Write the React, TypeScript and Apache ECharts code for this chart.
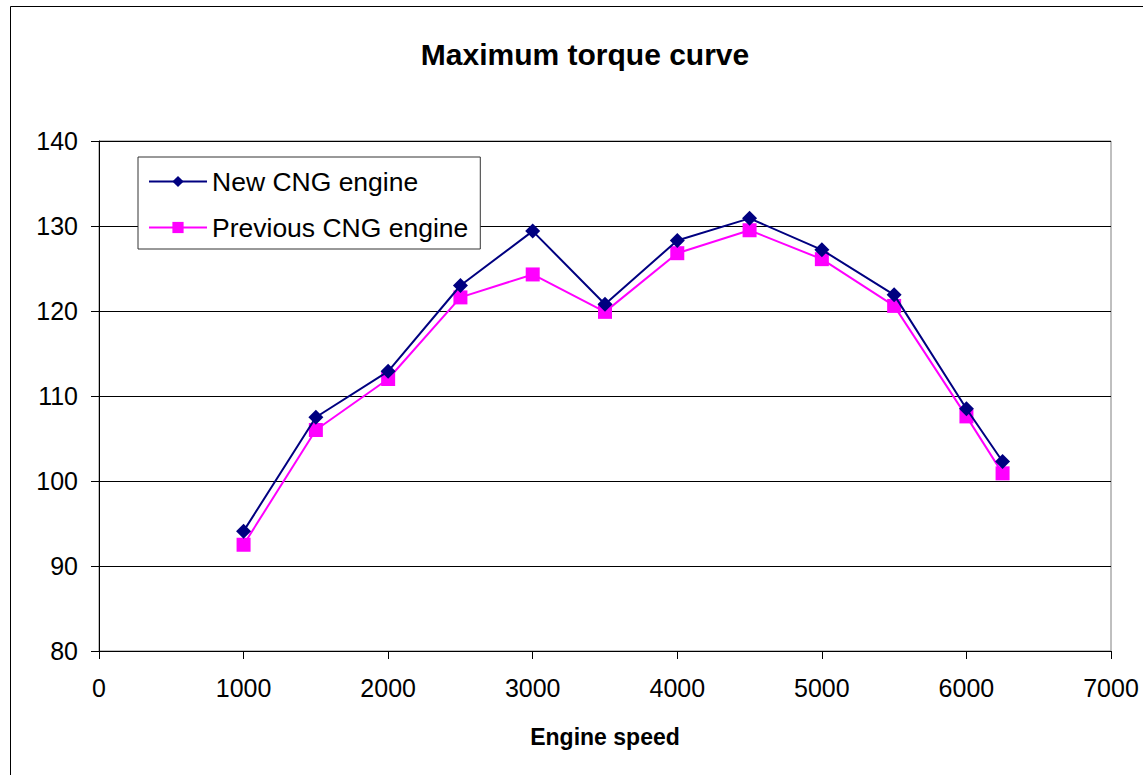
import React, { useEffect, useRef } from "react";
import * as echarts from "echarts";

const speeds = [1000, 1500, 2000, 2500, 3000, 3500, 4000, 4500, 5000, 5500, 6000, 6250];
const newEngine = [94.1, 107.5, 112.9, 123.0, 129.4, 120.8, 128.3, 130.9, 127.2, 121.9, 108.5, 102.3];
const prevEngine = [92.5, 106.0, 112.0, 121.6, 124.3, 119.9, 126.8, 129.5, 126.1, 120.6, 107.6, 100.9];
const seriesNames = ["New CNG engine", "Previous CNG engine"];
const titleText = "Maximum torque curve";
const xAxisName = "Engine speed";

const FONT = "'Liberation Sans', Arial, sans-serif";

export default function App() {
  const ref = useRef<HTMLDivElement>(null);
  useEffect(() => {
    if (!ref.current) return;
    const chart = echarts.init(ref.current, null, { renderer: "svg" });
    chart.setOption({
      animation: false,
      backgroundColor: "#ffffff",
      title: {
        text: titleText,
        left: 580,
        top: 34,
        textAlign: "center",
        textStyle: { fontFamily: FONT, fontWeight: "bold", fontSize: 30, color: "#000" },
      },
      graphic: [
        {
          type: "rect",
          shape: { x: 10.5, y: 6.5, width: 1150, height: 800 },
          style: { fill: "none", stroke: "#000", lineWidth: 1 },
          silent: true,
        },
      ],
      legend: {
        orient: "vertical",
        left: 138,
        top: 157,
        padding: [11, 12, 8, 10],
        itemGap: 19,
        itemWidth: 58,
        itemHeight: 14,
        borderColor: "#333",
        borderWidth: 1,
        backgroundColor: "#fff",
        textStyle: { fontFamily: FONT, fontSize: 26.5, color: "#000" },
        data: seriesNames,
      },
      grid: {
        left: 99,
        right: 32,
        top: 141,
        bottom: 124,
        show: true,
        borderColor: "#808080",
        borderWidth: 1,
        containLabel: false,
      },
      xAxis: {
        type: "value",
        min: 0,
        max: 7000,
        interval: 1000,
        name: xAxisName,
        nameLocation: "middle",
        nameGap: 74,
        nameTextStyle: { fontFamily: FONT, fontWeight: "bold", fontSize: 23, color: "#000" },
        axisLine: { show: true, lineStyle: { color: "#000", width: 1 } },
        axisTick: { show: true, length: 8, lineStyle: { color: "#000" } },
        axisLabel: {
          fontFamily: FONT,
          fontSize: 25,
          color: "#000",
          margin: 24,
          formatter: (v: number) => String(v),
        },
        splitLine: { show: false },
      },
      yAxis: {
        type: "value",
        min: 80,
        max: 140,
        interval: 10,
        axisLine: { show: true, lineStyle: { color: "#000", width: 1 } },
        axisTick: { show: true, length: 8, lineStyle: { color: "#000" } },
        axisLabel: { fontFamily: FONT, fontSize: 25, color: "#000", margin: 21 },
        splitLine: { show: true, lineStyle: { color: "#000", width: 1 } },
      },
      series: [
        {
          name: seriesNames[0],
          type: "line",
          data: speeds.map((s, i) => [s, newEngine[i]]),
          symbol: "diamond",
          symbolSize: 15,
          lineStyle: { color: "#000080", width: 2 },
          itemStyle: { color: "#000080" },
          z: 3,
        },
        {
          name: seriesNames[1],
          type: "line",
          data: speeds.map((s, i) => [s, prevEngine[i]]),
          symbol: "rect",
          symbolSize: 14,
          lineStyle: { color: "#FF00FF", width: 2 },
          itemStyle: { color: "#FF00FF" },
          z: 2,
        },
      ],
    });
    return () => chart.dispose();
  }, []);
  return (
    <div
      ref={ref}
      style={{ position: "fixed", left: 0, top: 0, width: 1143, height: 775, background: "#fff" }}
    />
  );
}
